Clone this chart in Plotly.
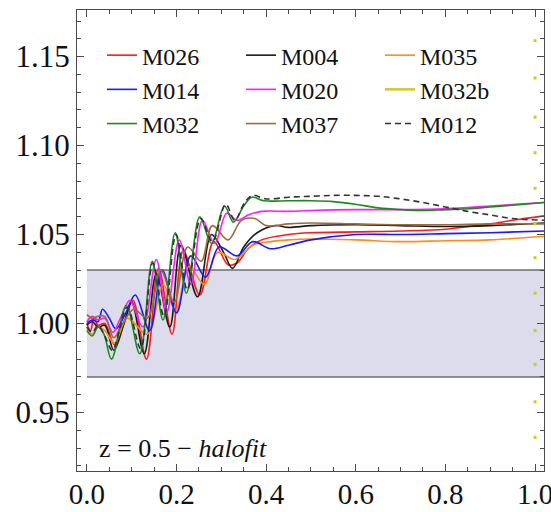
import plotly.graph_objects as go

# --- ratio of simulated power spectrum to halofit, z = 0.5 ---
x_m026 = [0.000, 0.008, 0.016, 0.025, 0.040, 0.062, 0.085, 0.103, 0.133, 0.160, 0.190, 0.215, 0.252, 0.283, 0.315, 0.335, 0.360, 0.390, 0.450, 0.500, 0.600, 0.700, 0.800, 0.850, 0.900, 0.950, 1.020]
y_m026 = [1.000, 0.996, 1.003, 0.999, 1.000, 0.988, 1.002, 1.013, 0.980, 1.031, 0.994, 1.041, 1.016, 1.046, 1.033, 1.034, 1.042, 1.047, 1.050, 1.051, 1.0515, 1.052, 1.053, 1.0545, 1.056, 1.058, 1.0605]

x_m004 = [0.000, 0.012, 0.025, 0.040, 0.060, 0.083, 0.100, 0.128, 0.155, 0.185, 0.210, 0.247, 0.278, 0.305, 0.325, 0.350, 0.380, 0.420, 0.450, 0.500, 0.600, 0.700, 0.800, 0.900, 1.020]
y_m004 = [0.999, 1.001, 0.998, 0.999, 0.985, 1.000, 1.012, 0.983, 1.028, 0.998, 1.044, 1.015, 1.050, 1.040, 1.031, 1.043, 1.051, 1.055, 1.054, 1.055, 1.0555, 1.055, 1.0545, 1.055, 1.0565]

x_m035 = [0.000, 0.012, 0.025, 0.040, 0.062, 0.090, 0.135, 0.170, 0.198, 0.228, 0.262, 0.292, 0.330, 0.370, 0.410, 0.450, 0.500, 0.600, 0.700, 0.800, 0.900, 1.020]
y_m035 = [0.997, 0.994, 0.998, 0.996, 0.989, 1.003, 0.994, 1.022, 1.007, 1.032, 1.022, 1.040, 1.036, 1.044, 1.046, 1.047, 1.0475, 1.047, 1.046, 1.0465, 1.047, 1.049]

x_m014 = [0.000, 0.012, 0.025, 0.035, 0.050, 0.065, 0.085, 0.108, 0.140, 0.168, 0.200, 0.232, 0.265, 0.295, 0.335, 0.370, 0.410, 0.450, 0.500, 0.600, 0.700, 0.800, 0.900, 1.020]
y_m014 = [1.000, 1.002, 1.001, 1.008, 1.003, 0.997, 1.005, 1.016, 0.996, 1.030, 1.006, 1.038, 1.026, 1.043, 1.038, 1.046, 1.042, 1.044, 1.047, 1.050, 1.050, 1.0505, 1.051, 1.052]

x_m020 = [0.000, 0.012, 0.025, 0.040, 0.058, 0.075, 0.096, 0.125, 0.155, 0.178, 0.206, 0.232, 0.258, 0.285, 0.312, 0.335, 0.360, 0.390, 0.450, 0.500, 0.600, 0.700, 0.800, 0.900, 1.020]
y_m020 = [1.001, 1.004, 1.002, 1.003, 0.995, 1.003, 1.013, 0.998, 1.036, 1.006, 1.047, 1.022, 1.058, 1.045, 1.062, 1.058, 1.061, 1.063, 1.063, 1.0635, 1.064, 1.064, 1.0645, 1.066, 1.068]

x_m032 = [0.000, 0.012, 0.025, 0.038, 0.055, 0.088, 0.118, 0.146, 0.170, 0.197, 0.222, 0.252, 0.278, 0.307, 0.327, 0.350, 0.368, 0.395, 0.450, 0.500, 0.550, 0.600, 0.650, 0.700, 0.750, 0.800, 0.850, 0.900, 0.950, 1.020]
y_m032 = [0.996, 0.993, 0.998, 0.994, 0.980, 1.010, 0.983, 1.035, 1.002, 1.051, 1.017, 1.060, 1.045, 1.066, 1.057, 1.066, 1.071, 1.069, 1.069, 1.069, 1.0685, 1.067, 1.065, 1.064, 1.0635, 1.064, 1.0645, 1.0655, 1.0665, 1.068]

x_m037 = [0.000, 0.012, 0.025, 0.040, 0.060, 0.080, 0.105, 0.135, 0.165, 0.195, 0.225, 0.255, 0.280, 0.315, 0.345, 0.375, 0.400, 0.450, 0.500, 0.600, 0.700, 0.800, 0.900, 1.020]
y_m037 = [1.005, 1.003, 1.004, 1.004, 0.992, 1.000, 1.008, 1.003, 1.030, 1.012, 1.043, 1.035, 1.055, 1.047, 1.058, 1.059, 1.055, 1.056, 1.0565, 1.056, 1.0555, 1.0555, 1.056, 1.056]

x_m012 = [0.000, 0.012, 0.025, 0.040, 0.057, 0.090, 0.120, 0.147, 0.172, 0.199, 0.224, 0.254, 0.280, 0.310, 0.330, 0.352, 0.370, 0.400, 0.450, 0.500, 0.550, 0.600, 0.650, 0.700, 0.750, 0.800, 0.850, 0.900, 0.950, 1.020]
y_m012 = [0.998, 0.995, 0.999, 0.993, 0.985, 1.009, 0.986, 1.034, 1.004, 1.050, 1.019, 1.059, 1.046, 1.067, 1.058, 1.068, 1.072, 1.070, 1.071, 1.0715, 1.072, 1.072, 1.0715, 1.070, 1.068, 1.0655, 1.063, 1.061, 1.059, 1.058]

# M032b only shows up as isolated points along k = 1
x_m032b = [1.0] * 12
y_m032b = [0.936, 0.956, 0.977, 0.996, 1.017, 1.037, 1.056, 1.076, 1.096, 1.116, 1.138, 1.159]

band_low, band_high = 0.97, 1.03
x_range = [-0.022, 1.02]
y_range = [0.9171, 1.1762]

series = [
    # name, x, y, colour, dash, legend rank
    ("M026", x_m026, y_m026, "#ff1a1a", "solid", 1),
    ("M004", x_m004, y_m004, "#1a1a1a", "solid", 2),
    ("M035", x_m035, y_m035, "#ff8c1a", "solid", 3),
    ("M014", x_m014, y_m014, "#1a1aff", "solid", 4),
    ("M020", x_m020, y_m020, "#ff1aff", "solid", 5),
    ("M037", x_m037, y_m037, "#9c6b3c", "solid", 8),
    ("M032", x_m032, y_m032, "#1a8c1a", "solid", 7),
    ("M012", x_m012, y_m012, "#333333", "6px,4px", 9),
]

serif = "Liberation Serif, Times New Roman, serif"
fig = go.Figure()

for name, xs, ys, col, dash, rank in series:
    fig.add_trace(go.Scatter(
        x=xs, y=ys, name=name, mode="lines",
        line=dict(color=col, width=1.6, dash=dash, shape="spline", smoothing=1.0),
        legendrank=rank,
    ))

m032b_col = "#cccc22"
fig.add_trace(go.Scatter(
    x=x_m032b, y=y_m032b, mode="markers", showlegend=False,
    marker=dict(color=m032b_col, size=3, symbol="square", line=dict(width=0)),
))
fig.add_trace(go.Scatter(
    x=[None], y=[None], name="M032b", mode="lines",
    line=dict(color=m032b_col, width=2.5), legendrank=6,
))

# +/-3% band
fig.add_shape(type="rect", xref="x", yref="y", x0=0, x1=x_range[1],
              y0=band_low, y1=band_high, fillcolor="#dcdcec",
              line=dict(width=0), layer="below")
for yb in (band_low, band_high):
    fig.add_shape(type="line", xref="x", yref="y", x0=0, x1=x_range[1],
                  y0=yb, y1=yb, line=dict(color="#6e6e6e", width=1.5), layer="below")

fig.add_annotation(
    x=0.023, y=0.930, xref="x", yref="y", xanchor="left", yanchor="middle",
    text="z = 0.5 \u2212 <i>halofit</i>", showarrow=False,
    font=dict(family=serif, size=26, color="#111111"),
)

axis_common = dict(
    showline=True, linecolor="#4a4a4a", linewidth=1.3, mirror="ticks",
    ticks="inside", ticklen=7, tickwidth=1, tickcolor="#4a4a4a",
    showgrid=False, zeroline=False, automargin=False,
    ticklabeloverflow="allow",
)

fig.update_xaxes(
    range=x_range, tick0=0, dtick=0.2, tickformat=".1f",
    tickfont=dict(family=serif, size=29, color="#111111"),
    ticklabelstandoff=-3,
    minor=dict(ticks="inside", ticklen=4, dtick=0.05, tick0=0, tickcolor="#4a4a4a"),
    **axis_common,
)
fig.update_yaxes(
    range=y_range, tick0=0, dtick=0.05, tickformat=".2f",
    tickfont=dict(family=serif, size=31, color="#111111"),
    minor=dict(ticks="inside", ticklen=4, dtick=0.01, tick0=0, tickcolor="#4a4a4a"),
    **axis_common,
)

fig.update_layout(
    width=551, height=512,
    margin=dict(l=77, r=7, t=10, b=41),
    paper_bgcolor="white", plot_bgcolor="white",
    legend=dict(
        orientation="h", x=0.0535, y=0.950, xanchor="left", yanchor="top",
        entrywidth=94, entrywidthmode="pixels",
        font=dict(family=serif, size=24, color="#111111"),
        bgcolor="rgba(0,0,0,0)", traceorder="normal", tracegroupgap=0,
    ),
)

fig.write_html("out.html")
